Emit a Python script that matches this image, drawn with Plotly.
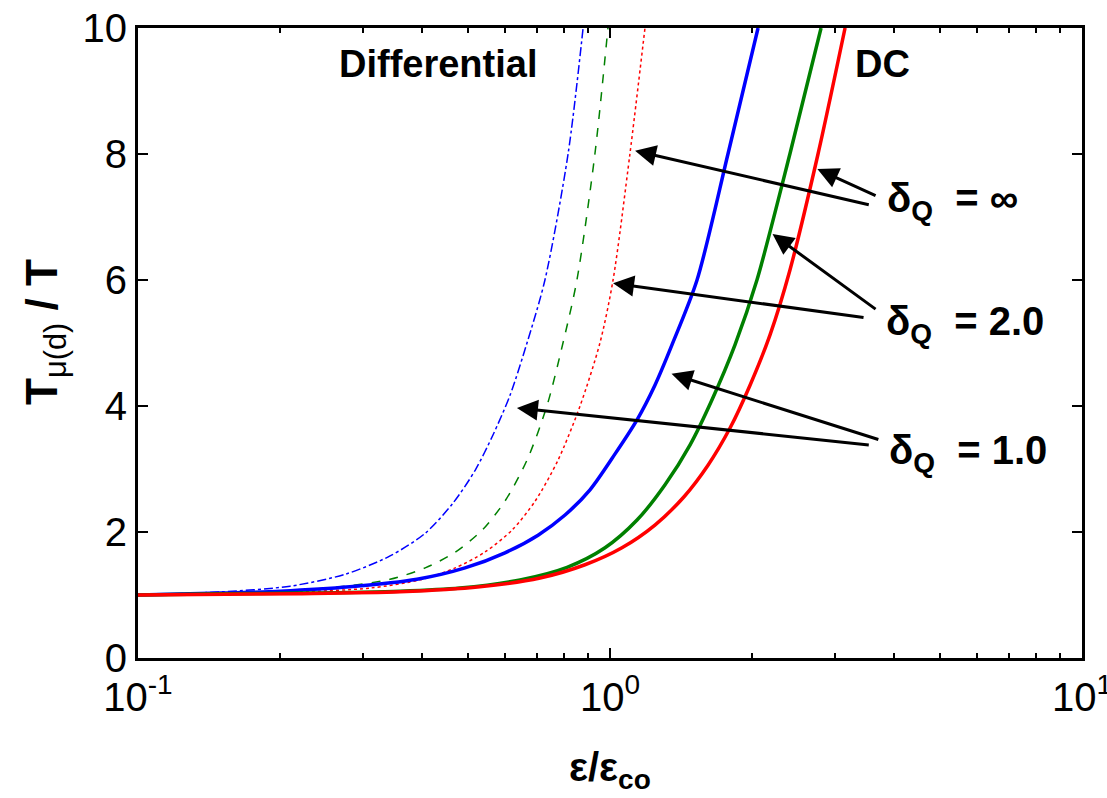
import math
import plotly.graph_objects as go

# ---- data ----
# Differential (thin, dashed) curves
diff_blue_x  = [0.10, 0.150, 0.210, 0.275, 0.342, 0.406, 0.465, 0.518, 0.565, 0.614, 0.667, 0.728, 0.815, 0.877]
diff_blue_y  = [1.00, 1.05, 1.14, 1.33, 1.62, 1.98, 2.46, 2.98, 3.54, 4.17, 5.0, 6.0, 8.0, 10.0]
diff_green_x = [0.10, 0.150, 0.200, 0.268, 0.342, 0.406, 0.470, 0.536, 0.599, 0.667, 0.735, 0.795, 0.851, 0.929, 0.990]
diff_green_y = [1.00, 1.03, 1.06, 1.13, 1.25, 1.43, 1.68, 2.03, 2.49, 3.14, 4.0, 5.0, 6.0, 8.0, 10.0]
diff_red_x   = [0.10, 0.150, 0.220, 0.310, 0.396, 0.470, 0.543, 0.620, 0.694, 0.776, 0.864, 0.952, 1.015, 1.102, 1.186]
diff_red_y   = [1.00, 1.02, 1.05, 1.11, 1.24, 1.43, 1.68, 2.03, 2.49, 3.14, 4.0, 5.0, 6.0, 8.0, 10.0]
# DC (thick, solid) curves
dc_blue_x  = [0.10, 0.150, 0.200, 0.281, 0.390, 0.493, 0.599, 0.704, 0.803, 0.907, 1.025, 1.141, 1.245, 1.353, 1.529, 1.778, 2.059]
dc_blue_y  = [1.00, 1.03, 1.06, 1.13, 1.25, 1.43, 1.67, 1.95, 2.27, 2.67, 3.24, 3.78, 4.33, 4.97, 6.0, 8.0, 10.0]
dc_green_x = [0.10, 0.150, 0.220, 0.359, 0.481, 0.645, 0.811, 0.976, 1.141, 1.308, 1.477, 1.645, 1.840, 2.048, 2.405, 2.800]
dc_green_y = [1.00, 1.02, 1.03, 1.06, 1.11, 1.24, 1.44, 1.75, 2.19, 2.75, 3.38, 4.10, 4.97, 6.0, 8.0, 10.0]
dc_red_x   = [0.10, 0.220, 0.359, 0.530, 0.711, 0.885, 1.060, 1.245, 1.435, 1.613, 1.796, 1.980, 2.183, 2.406, 2.759, 3.148]
dc_red_y   = [1.00, 1.02, 1.05, 1.13, 1.27, 1.48, 1.75, 2.11, 2.56, 3.06, 3.65, 4.33, 5.13, 6.16, 8.0, 10.0]

x_tickvals = [0.1, 1, 10]
x_ticktext = ["10<sup>-1</sup>", "10<sup>0</sup>", "10<sup>1</sup>"]
x_minor = [0.2, 0.3, 0.4, 0.5, 0.6, 0.7, 0.8, 0.9, 2, 3, 4, 5, 6, 7, 8, 9]
y_tickvals = [0, 2, 4, 6, 8, 10]

# label text / arrow (tip -> tail) in data units
labels = ["δ<sub>Q</sub>\u00a0 = ∞", "δ<sub>Q</sub>\u00a0 = 2.0", "δ<sub>Q</sub>\u00a0 = 1.0"]
label_pos = [(3.82, 7.25), (3.80, 5.30), (3.86, 3.25)]
arrows = [
    ((1.13, 8.05), (3.56, 7.19)),
    ((2.75, 7.76), (3.68, 7.33)),
    ((1.015, 5.95), (3.47, 5.40)),
    ((2.21, 6.73), (3.68, 5.52)),
    ((0.635, 3.97), (3.56, 3.38)),
    ((1.35, 4.51), (3.73, 3.46)),
]

BLUE, GREEN, RED = "rgb(0,0,255)", "rgb(0,128,0)", "rgb(255,0,0)"
FONT = "Liberation Sans, Arial, sans-serif"

fig = go.Figure()
series = [
    (diff_blue_x, diff_blue_y, BLUE, 1.5, "dashdot"),
    (diff_green_x, diff_green_y, GREEN, 1.5, "dash"),
    (diff_red_x, diff_red_y, RED, 1.5, "dot"),
    (dc_blue_x, dc_blue_y, BLUE, 3.5, "solid"),
    (dc_green_x, dc_green_y, GREEN, 3.5, "solid"),
    (dc_red_x, dc_red_y, RED, 3.5, "solid"),
]
for xs, ys, c, w, d in series:
    fig.add_trace(go.Scatter(x=xs, y=ys, mode="lines",
                             line=dict(color=c, width=w, dash=d, shape="spline", smoothing=0.8),
                             showlegend=False, cliponaxis=True))

ann = []
for (tip, tail) in arrows:
    ann.append(dict(x=math.log10(tip[0]), y=tip[1], ax=math.log10(tail[0]), ay=tail[1],
                    xref="x", yref="y", axref="x", ayref="y", text="", showarrow=True,
                    arrowhead=2, arrowsize=1.4, arrowwidth=3, arrowcolor="black"))
for txt, (lx, ly) in zip(labels, label_pos):
    ann.append(dict(x=math.log10(lx), y=ly, xref="x", yref="y", text="<b>" + txt + "</b>",
                    showarrow=False, xanchor="left", yanchor="middle",
                    font=dict(size=40, color="black", family=FONT)))
ann.append(dict(x=0.318, y=1.0, xref="paper", yref="paper", yshift=-36, text="<b>Differential</b>",
                showarrow=False, xanchor="center", yanchor="middle",
                font=dict(size=38, color="black", family=FONT)))
ann.append(dict(x=0.789, y=1.0, xref="paper", yref="paper", yshift=-36, text="<b>DC</b>",
                showarrow=False, xanchor="center", yanchor="middle",
                font=dict(size=38, color="black", family=FONT)))
ann.append(dict(x=0.5, y=0, xref="paper", yref="paper", yshift=-112, text="<b>ε/ε<sub>co</sub></b>",
                showarrow=False, xanchor="center", yanchor="middle",
                font=dict(size=40, color="black", family=FONT)))
ann.append(dict(x=-0.0985, y=0.5175, xref="paper", yref="paper", textangle=-90,
                text="<b>T</b><sub>μ(d)</sub><b> / T</b>",
                showarrow=False, xanchor="center", yanchor="middle",
                font=dict(size=44, color="black", family=FONT)))

fig.update_layout(
    width=1107, height=798,
    margin=dict(l=138, r=25, t=28, b=140),
    paper_bgcolor="white", plot_bgcolor="white",
    font=dict(family=FONT, color="black"),
    annotations=ann,
    xaxis=dict(type="log", range=[-1, 1], tickvals=x_tickvals, ticktext=x_ticktext,
               ticks="inside", ticklen=10, tickwidth=2, tickcolor="black",
               showline=True, linewidth=3, linecolor="black", mirror="ticks",
               showgrid=False, zeroline=False, tickfont=dict(size=40),
               ticklabelstandoff=2, ticklabeloverflow="allow", automargin=False,
               minor=dict(tickvals=x_minor, ticks="inside", ticklen=5, tickwidth=2,
                          tickcolor="black", showgrid=False)),
    yaxis=dict(range=[0, 10], tickvals=y_tickvals,
               ticks="inside", ticklen=10, tickwidth=2, tickcolor="black",
               showline=True, linewidth=3, linecolor="black", mirror="ticks",
               showgrid=False, zeroline=False, tickfont=dict(size=40), automargin=False),
)

fig.write_html("out.html")
